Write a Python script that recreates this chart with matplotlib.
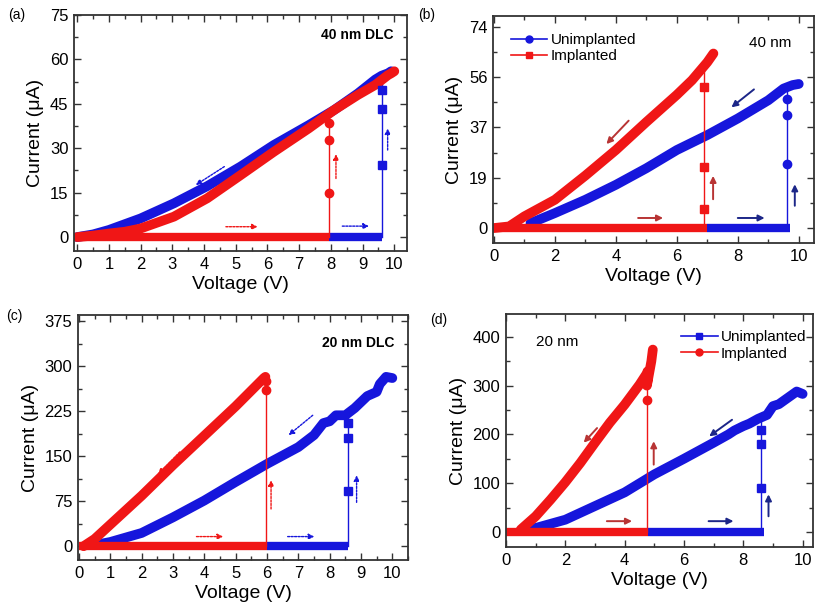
import matplotlib.pyplot as plt
import numpy as np
from matplotlib.ticker import MultipleLocator, FixedLocator

plt.rcParams['font.family'] = ['Liberation Sans', 'DejaVu Sans']

BLUE = '#1616dc'
RED = '#f01616'
DRED = '#b83434'
DBLUE = '#1c2688'

# ---- (a) 40 nm DLC ----
a_blue_fwd = [7.95, 9.6]
a_blue_set = 9.6
a_blue_jump = [24.5, 43.1, 49.7]
a_blue_back_v = [9.9, 9.8, 9.6, 9.4, 8.85, 8.1, 7.3, 6.2, 5.15, 4.1, 3.05, 2.0, 1.0, 0.5, 0.0]
a_blue_back_i = [56.0, 55.3, 54.5, 53.2, 48.5, 42.9, 37.8, 31.1, 23.8, 17.2, 11.4, 6.3, 2.4, 0.9, 0.0]
a_red_fwd = [0.0, 7.95]
a_red_set = 7.95
a_red_jump = [14.8, 32.8, 38.6]
a_red_back_v = [10.0, 9.9, 9.8, 9.4, 8.85, 8.1, 7.3, 6.2, 5.15, 4.1, 3.05, 2.0, 1.5, 1.0, 0.5, 0.0]
a_red_back_i = [56.0, 55.3, 54.7, 51.4, 48.0, 42.9, 36.7, 28.8, 20.9, 13.1, 6.9, 2.9, 1.8, 1.2, 0.5, 0.0]

# ---- (b) 40 nm ----
b_blue_fwd = [7.0, 9.7]
b_blue_set = 9.63
b_blue_jump = [23.5, 41.5, 47.5]
b_blue_back_v = [10.0, 9.8, 9.5, 9.0, 8.0, 7.0, 6.0, 5.0, 4.0, 3.0, 2.0, 1.2]
b_blue_back_i = [53.0, 52.6, 51.3, 47.0, 40.3, 34.2, 28.7, 22.0, 15.9, 10.4, 5.5, 1.8]
b_red_fwd = [0.0, 7.0]
b_red_set = 6.9
b_red_jump = [7.0, 22.5, 52.0]
b_red_back_v = [7.2, 7.0, 6.5, 6.0, 5.0, 4.0, 3.0, 2.0, 1.0, 0.5, 0.0]
b_red_back_i = [64.2, 61.0, 54.4, 49.0, 39.0, 28.7, 19.3, 10.4, 4.3, 0.6, 0.0]
b_yticks = [0, 18.5, 37, 55.5, 74]
b_yticklabels = ['0', '19', '37', '56', '74']

# ---- (c) 20 nm DLC ----
c_blue_fwd = [6.0, 8.6]
c_blue_set = 8.6
c_blue_jump = [92.0, 180.0, 205.0]
c_blue_back_v = [10.0, 9.8, 9.6, 9.5, 9.2, 9.0, 8.8, 8.5, 8.2, 8.0, 7.8, 7.5, 7.0, 6.0, 5.0, 4.0, 3.0, 2.0, 1.0, 0.5]
c_blue_back_i = [280.0, 282.0, 270.0, 257.0, 250.0, 240.0, 230.0, 218.0, 218.0, 208.0, 205.0, 185.0, 165.0, 137.0, 107.0, 76.0, 48.0, 22.0, 7.0, 2.0]
c_red_fwd = [0.0, 6.0]
c_red_set = 5.98
c_red_jump = [260.0, 275.0]
c_red_back_v = [5.95, 5.9, 5.0, 4.0, 3.0, 2.0, 1.0, 0.5, 0.15]
c_red_back_i = [282.0, 280.0, 233.0, 184.0, 135.0, 84.0, 36.0, 12.0, 0.0]

# ---- (d) 20 nm ----
d_blue_fwd = [4.8, 8.7]
d_blue_set = 8.6
d_blue_jump = [90.0, 180.0, 210.0]
d_blue_back_v = [10.0, 9.8, 9.5, 9.2, 9.0, 8.8, 8.5, 8.2, 8.0, 7.7, 7.5, 7.0, 6.0, 5.0, 4.0, 3.0, 2.0, 1.0, 0.5]
d_blue_back_i = [283.0, 288.0, 275.0, 262.0, 258.0, 240.0, 232.0, 222.0, 217.0, 208.0, 200.0, 183.0, 150.0, 118.0, 81.0, 53.0, 25.0, 8.0, 3.0]
d_red_fwd = [0.0, 4.8]
d_red_set = 4.75
d_red_jump = [270.0, 330.0]
d_red_back_v = [4.95, 4.9, 4.75, 4.8, 4.5, 4.0, 3.5, 3.0, 2.5, 2.0, 1.5, 1.0, 0.5]
d_red_back_i = [374.0, 350.0, 300.0, 330.0, 302.0, 261.0, 224.0, 183.0, 141.0, 102.0, 66.0, 32.0, 5.0]

fig = plt.figure(figsize=(8.15, 6.02), dpi=100)


def add_axes_px(l, t, r, b):
    W, H = 815.0, 602.0
    return fig.add_axes([l / W, 1 - b / H, (r - l) / W, (b - t) / H])


def style(ax, xlim, ylim, xmaj, ymaj):
    ax.set_xlim(*xlim)
    ax.set_ylim(*ylim)
    ax.xaxis.set_major_locator(MultipleLocator(xmaj))
    ax.xaxis.set_minor_locator(MultipleLocator(xmaj / 2))
    if ymaj is not None:
        ax.yaxis.set_major_locator(MultipleLocator(ymaj))
        ax.yaxis.set_minor_locator(MultipleLocator(ymaj / 2))
    ax.tick_params(which='both', direction='in', top=True, right=True,
                   width=1.0, color='#333333', labelsize=12, pad=4)
    ax.tick_params(which='major', length=5)
    ax.tick_params(which='minor', length=3)
    for s in ax.spines.values():
        s.set_linewidth(1.3)
        s.set_color('#333333')
    ax.set_xlabel('Voltage (V)', fontsize=14, labelpad=3)
    ax.set_ylabel('Current (μA)', fontsize=14, labelpad=4)


def sweep(ax, color, fwd, vset, jump, back_v, back_i, marker, label=None):
    top = back_i[np.argmin(np.abs(np.array(back_v) - vset))]
    ax.plot(fwd, [0, 0], color=color, lw=6, solid_capstyle='butt', zorder=2)
    ax.plot([vset, vset], [0, top], color=color, lw=1.0, zorder=2)
    ax.plot([vset] * len(jump), jump, ls='none', marker=marker, ms=6,
            color=color, zorder=3)
    ax.plot(back_v, back_i, color=color, lw=7, solid_capstyle='round',
            solid_joinstyle='round', zorder=2)
    if label:
        ax.plot([], [], color=color, lw=1.2, marker=marker, ms=5, label=label)


def dotted_arrow(ax, start, end, color):
    ax.annotate('', xy=end, xytext=start,
                arrowprops=dict(arrowstyle='-|>', color=color, lw=1.0,
                                linestyle=(0, (1.5, 1)), mutation_scale=8,
                                shrinkA=0, shrinkB=0), zorder=4)


def solid_arrow(ax, start, end, color):
    ax.annotate('', xy=end, xytext=start,
                arrowprops=dict(arrowstyle='-|>', color=color, lw=1.4,
                                mutation_scale=9, shrinkA=0, shrinkB=0), zorder=4)


# (a)
ax = add_axes_px(74, 15, 407, 251)
style(ax, (-0.1, 10.4), (-4.7, 75), 1, 15)
sweep(ax, BLUE, a_blue_fwd, a_blue_set, a_blue_jump, a_blue_back_v, a_blue_back_i, 's')
sweep(ax, RED, a_red_fwd, a_red_set, a_red_jump, a_red_back_v, a_red_back_i, 'o')
dotted_arrow(ax, (4.64, 23.8), (3.74, 17.6), BLUE)
dotted_arrow(ax, (4.69, 3.5), (5.69, 3.5), RED)
dotted_arrow(ax, (8.36, 3.7), (9.2, 3.7), BLUE)
dotted_arrow(ax, (8.16, 19.8), (8.16, 28.0), RED)
dotted_arrow(ax, (9.79, 29.4), (9.79, 36.7), BLUE)
ax.text(0.96, 0.915, '40 nm DLC', transform=ax.transAxes, ha='right', va='center',
        fontsize=10, fontweight='bold')

# (b)
ax = add_axes_px(493, 16, 814, 243)
style(ax, (-0.03, 10.5), (-5.5, 78), 2, None)
ax.yaxis.set_major_locator(FixedLocator(b_yticks))
ax.set_yticklabels(b_yticklabels)
ax.yaxis.set_minor_locator(MultipleLocator(9.25))
sweep(ax, BLUE, b_blue_fwd, b_blue_set, b_blue_jump, b_blue_back_v, b_blue_back_i, 'o', 'Unimplanted')
sweep(ax, RED, b_red_fwd, b_red_set, b_red_jump, b_red_back_v, b_red_back_i, 's', 'Implanted')
solid_arrow(ax, (4.42, 39.5), (3.69, 30.9), DRED)
solid_arrow(ax, (8.53, 51.0), (7.79, 44.4), DBLUE)
solid_arrow(ax, (4.73, 3.7), (5.55, 3.7), DRED)
solid_arrow(ax, (8.0, 3.7), (8.88, 3.7), DBLUE)
solid_arrow(ax, (7.19, 10.6), (7.19, 19.2), DRED)
solid_arrow(ax, (9.87, 8.2), (9.87, 16.1), DBLUE)
ax.text(0.93, 0.88, '40 nm', transform=ax.transAxes, ha='right', va='center', fontsize=11)
ax.legend(loc='upper left', bbox_to_anchor=(0.055, 0.925), frameon=False, fontsize=11,
          handlelength=2.4, handletextpad=0.2, borderaxespad=0, labelspacing=0.15,
          borderpad=0)

# (c)
ax = add_axes_px(78, 315, 408, 560)
style(ax, (-0.03, 10.5), (-23, 385), 1, 75)
sweep(ax, BLUE, c_blue_fwd, c_blue_set, c_blue_jump, c_blue_back_v, c_blue_back_i, 's')
sweep(ax, RED, c_red_fwd, c_red_set, c_red_jump, c_red_back_v, c_red_back_i, 'o')
dotted_arrow(ax, (3.22, 157), (2.53, 120), RED)
dotted_arrow(ax, (7.46, 218), (6.69, 185), BLUE)
dotted_arrow(ax, (6.13, 62), (6.13, 110), RED)
dotted_arrow(ax, (8.86, 73), (8.86, 118), BLUE)
dotted_arrow(ax, (3.75, 16), (4.6, 16), RED)
dotted_arrow(ax, (6.66, 16), (7.51, 16), BLUE)
ax.text(0.96, 0.886, '20 nm DLC', transform=ax.transAxes, ha='right', va='center',
        fontsize=10, fontweight='bold')

# (d)
ax = add_axes_px(506, 314, 813, 547)
style(ax, (0, 10.35), (-31, 447), 2, 100)
sweep(ax, BLUE, d_blue_fwd, d_blue_set, d_blue_jump, d_blue_back_v, d_blue_back_i, 's', 'Unimplanted')
sweep(ax, RED, d_red_fwd, d_red_set, d_red_jump, d_red_back_v, d_red_back_i, 'o', 'Implanted')
solid_arrow(ax, (3.07, 213), (2.62, 183), DRED)
solid_arrow(ax, (7.62, 230), (6.85, 196), DBLUE)
solid_arrow(ax, (4.98, 138), (4.98, 186), DRED)
solid_arrow(ax, (8.85, 32), (8.85, 77), DBLUE)
solid_arrow(ax, (3.4, 22), (4.25, 22), DRED)
solid_arrow(ax, (6.83, 22), (7.67, 22), DBLUE)
ax.text(0.098, 0.88, '20 nm', transform=ax.transAxes, ha='left', va='center', fontsize=11)
ax.legend(loc='upper left', bbox_to_anchor=(0.57, 0.93), frameon=False, fontsize=11,
          handlelength=2.4, handletextpad=0.2, borderaxespad=0, labelspacing=0.15,
          borderpad=0)

for lbl, x, y in [('(a)', 8, 15), ('(b)', 418, 15), ('(c)', 6, 316), ('(d)', 430, 320)]:
    fig.text(x / 815, 1 - y / 602, lbl, fontsize=10, ha='left', va='center')

fig.savefig('out.png', dpi=100)
